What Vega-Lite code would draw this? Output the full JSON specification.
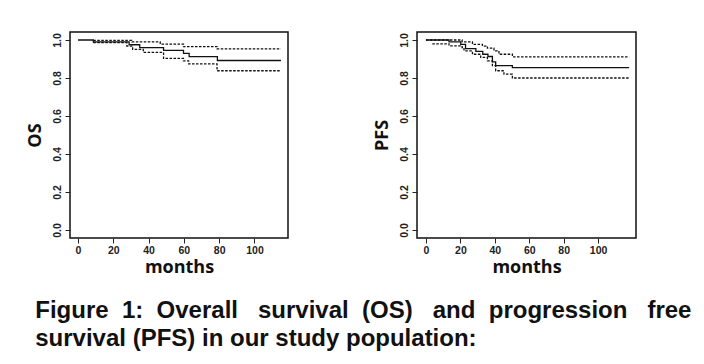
{
  "$schema": "https://vega.github.io/schema/vega-lite/v6.json",
  "padding": {"left": 25, "top": 31, "right": 5, "bottom": 5},
  "background": "white",
  "config": {
    "view": {"stroke": "#111", "strokeWidth": 1.5},
    "axis": {"grid": false, "domain": false, "tickColor": "#222", "tickSize": 5, "labelFont": "Liberation Sans", "labelFontWeight": "bold", "labelFontSize": 10.5, "labelColor": "#222", "titleFont": "Open Sans", "titleFontWeight": "bold", "titleFontSize": 18, "titleColor": "#111"}
  },
  "title": {
    "text": ["Figure\u00a0 1:\u00a0 Overall\u00a0\u00a0 survival\u00a0 (OS)\u00a0\u00a0 and\u00a0 progression\u00a0\u00a0 free", "survival (PFS) in our study population:"],
    "orient": "bottom", "anchor": "start", "font": "Liberation Sans", "fontWeight": "bold", "fontSize": 24, "color": "#111", "lineHeight": 28, "offset": 22, "dx": 10
  },
  "datasets": {
    "km": [
      {"panel": "OS", "series": "est", "month": 0, "surv": 1.0},
      {"panel": "OS", "series": "est", "month": 8.7, "surv": 0.99},
      {"panel": "OS", "series": "est", "month": 29, "surv": 0.975},
      {"panel": "OS", "series": "est", "month": 35, "surv": 0.96},
      {"panel": "OS", "series": "est", "month": 48.5, "surv": 0.945},
      {"panel": "OS", "series": "est", "month": 59.8, "surv": 0.93},
      {"panel": "OS", "series": "est", "month": 63, "surv": 0.912},
      {"panel": "OS", "series": "est", "month": 79, "surv": 0.892},
      {"panel": "OS", "series": "est", "month": 115, "surv": 0.892},
      {"panel": "OS", "series": "upper", "month": 8.7, "surv": 0.998},
      {"panel": "OS", "series": "upper", "month": 30.5, "surv": 0.99},
      {"panel": "OS", "series": "upper", "month": 46.6, "surv": 0.978},
      {"panel": "OS", "series": "upper", "month": 59.8, "surv": 0.965},
      {"panel": "OS", "series": "upper", "month": 78.8, "surv": 0.953},
      {"panel": "OS", "series": "upper", "month": 115, "surv": 0.953},
      {"panel": "OS", "series": "lower", "month": 8.7, "surv": 0.986},
      {"panel": "OS", "series": "lower", "month": 27.7, "surv": 0.968},
      {"panel": "OS", "series": "lower", "month": 31, "surv": 0.951},
      {"panel": "OS", "series": "lower", "month": 37, "surv": 0.935},
      {"panel": "OS", "series": "lower", "month": 48.5, "surv": 0.903},
      {"panel": "OS", "series": "lower", "month": 59.8, "surv": 0.89},
      {"panel": "OS", "series": "lower", "month": 62.7, "surv": 0.874},
      {"panel": "OS", "series": "lower", "month": 78.8, "surv": 0.838},
      {"panel": "OS", "series": "lower", "month": 115, "surv": 0.838},
      {"panel": "PFS", "series": "est", "month": 0, "surv": 1.0},
      {"panel": "PFS", "series": "est", "month": 13.4, "surv": 0.99},
      {"panel": "PFS", "series": "est", "month": 20.2, "surv": 0.977},
      {"panel": "PFS", "series": "est", "month": 23, "surv": 0.954},
      {"panel": "PFS", "series": "est", "month": 29, "surv": 0.94},
      {"panel": "PFS", "series": "est", "month": 33, "surv": 0.925},
      {"panel": "PFS", "series": "est", "month": 36, "surv": 0.913},
      {"panel": "PFS", "series": "est", "month": 38.6, "surv": 0.885},
      {"panel": "PFS", "series": "est", "month": 40.5, "surv": 0.865},
      {"panel": "PFS", "series": "est", "month": 50.2, "surv": 0.855},
      {"panel": "PFS", "series": "est", "month": 118, "surv": 0.855},
      {"panel": "PFS", "series": "upper", "month": 0, "surv": 1.0},
      {"panel": "PFS", "series": "upper", "month": 21, "surv": 0.99},
      {"panel": "PFS", "series": "upper", "month": 27, "surv": 0.977},
      {"panel": "PFS", "series": "upper", "month": 32.8, "surv": 0.968},
      {"panel": "PFS", "series": "upper", "month": 35.7, "surv": 0.957},
      {"panel": "PFS", "series": "upper", "month": 39.5, "surv": 0.943},
      {"panel": "PFS", "series": "upper", "month": 42.4, "surv": 0.925},
      {"panel": "PFS", "series": "upper", "month": 50.2, "surv": 0.911},
      {"panel": "PFS", "series": "upper", "month": 118, "surv": 0.911},
      {"panel": "PFS", "series": "lower", "month": 3.7, "surv": 0.98},
      {"panel": "PFS", "series": "lower", "month": 13.4, "surv": 0.969},
      {"panel": "PFS", "series": "lower", "month": 21, "surv": 0.96},
      {"panel": "PFS", "series": "lower", "month": 22.1, "surv": 0.943},
      {"panel": "PFS", "series": "lower", "month": 27, "surv": 0.925},
      {"panel": "PFS", "series": "lower", "month": 31.8, "surv": 0.908},
      {"panel": "PFS", "series": "lower", "month": 35.7, "surv": 0.89},
      {"panel": "PFS", "series": "lower", "month": 38.6, "surv": 0.865},
      {"panel": "PFS", "series": "lower", "month": 40.5, "surv": 0.838},
      {"panel": "PFS", "series": "lower", "month": 45.3, "surv": 0.82},
      {"panel": "PFS", "series": "lower", "month": 50.2, "surv": 0.8},
      {"panel": "PFS", "series": "lower", "month": 118, "surv": 0.8}
    ]
  },
  "hconcat": [
    {
      "width": 218, "height": 206,
      "data": {"name": "km"},
      "transform": [{"filter": "datum.panel === 'OS'"}],
      "mark": {"type": "line", "interpolate": "step-after", "color": "#111", "strokeWidth": 1.3},
      "encoding": {
        "x": {"field": "month", "type": "quantitative", "scale": {"domain": [-4.5, 119], "nice": false, "zero": false}, "axis": {"values": [0, 20, 40, 60, 80, 100], "title": "months", "labelPadding": 2, "titlePadding": 3}},
        "y": {"field": "surv", "type": "quantitative", "scale": {"domain": [-0.042, 1.042], "nice": false, "zero": false}, "axis": {"values": [0, 0.2, 0.4, 0.6, 0.8, 1.0], "format": ".1f", "labelAngle": 270, "labelAlign": "center", "labelBaseline": "bottom", "labelPadding": 3, "title": "OS", "titlePadding": 8}},
        "detail": {"field": "series"},
        "strokeDash": {"field": "series", "type": "nominal", "scale": {"domain": ["est", "upper", "lower"], "range": [[1, 0], [2.5, 1.5], [2.5, 1.5]]}, "legend": null}
      }
    },
    {
      "width": 219, "height": 206,
      "data": {"name": "km"},
      "transform": [{"filter": "datum.panel === 'PFS'"}],
      "mark": {"type": "line", "interpolate": "step-after", "color": "#111", "strokeWidth": 1.3},
      "encoding": {
        "x": {"field": "month", "type": "quantitative", "scale": {"domain": [-5.2, 122], "nice": false, "zero": false}, "axis": {"values": [0, 20, 40, 60, 80, 100], "title": "months", "labelPadding": 2, "titlePadding": 3}},
        "y": {"field": "surv", "type": "quantitative", "scale": {"domain": [-0.042, 1.042], "nice": false, "zero": false}, "axis": {"values": [0, 0.2, 0.4, 0.6, 0.8, 1.0], "format": ".1f", "labelAngle": 270, "labelAlign": "center", "labelBaseline": "bottom", "labelPadding": 3, "title": "PFS", "titlePadding": 8}},
        "detail": {"field": "series"},
        "strokeDash": {"field": "series", "type": "nominal", "scale": {"domain": ["est", "upper", "lower"], "range": [[1, 0], [2.5, 1.5], [2.5, 1.5]]}, "legend": null}
      }
    }
  ],
  "spacing": 83
}
